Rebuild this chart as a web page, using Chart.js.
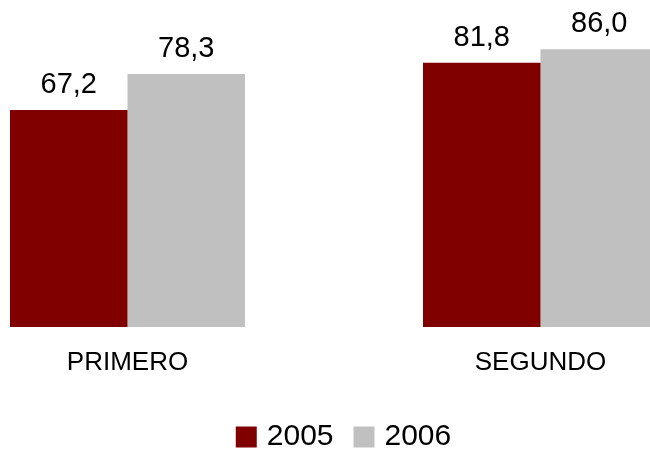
<!DOCTYPE html>
<html lang="es">
<head>
    <meta charset="UTF-8">
    <title>PRIMERO / SEGUNDO 2005-2006</title>
    <script src="https://cdn.jsdelivr.net/npm/chart.js"></script>
    <style>
        html, body { margin: 0; padding: 0; background: #fff; overflow: hidden; }
        body { width: 650px; height: 452px; position: relative; }
        #chart { position: absolute; left: -79px; top: 0; }
    </style>
</head>
<body>
    <canvas id="chart" width="850" height="452"></canvas>

    <script>
        const categories = ['PRIMERO', 'SEGUNDO'];
        const seriesNames = ['2005', '2006'];
        const values2005 = [67.2, 81.8];
        const values2006 = [78.3, 86.0];
        const seriesColors = ['#800000', '#C0C0C0'];

        Chart.defaults.font.family = "'Liberation Sans', Arial, sans-serif";
        Chart.defaults.color = '#000';

        // value labels above each bar, decimal comma
        const valueLabels = {
            id: 'valueLabels',
            afterDatasetsDraw(chart) {
                const ctx = chart.ctx;
                ctx.save();
                ctx.font = "29px 'Liberation Sans', Arial, sans-serif";
                ctx.fillStyle = '#000';
                ctx.textAlign = 'center';
                ctx.textBaseline = 'alphabetic';
                chart.data.datasets.forEach((ds, i) => {
                    chart.getDatasetMeta(i).data.forEach((bar, j) => {
                        const text = ds.data[j].toFixed(1).replace('.', ',');
                        ctx.fillText(text, bar.x, bar.y - 17);
                    });
                });
                ctx.restore();
            }
        };

        new Chart(document.getElementById('chart'), {
            type: 'bar',
            data: {
                labels: categories,
                datasets: [
                    { label: seriesNames[0], data: values2005, backgroundColor: seriesColors[0] },
                    { label: seriesNames[1], data: values2006, backgroundColor: seriesColors[1] }
                ]
            },
            options: {
                responsive: false,
                animation: false,
                categoryPercentage: 0.569,
                barPercentage: 1.0,
                layout: { padding: { top: 4, bottom: -10, left: 0, right: 0 } },
                plugins: {
                    tooltip: { enabled: false },
                    legend: {
                        position: 'bottom',
                        labels: {
                            usePointStyle: true,
                            pointStyle: 'rect',
                            boxWidth: 11,
                            boxHeight: 21,
                            padding: 25,
                            font: { size: 30 }
                        }
                    }
                },
                scales: {
                    x: {
                        grid: { display: false, drawTicks: false },
                        border: { display: false },
                        ticks: { padding: 20, font: { size: 26 } },
                        afterFit: scale => { scale.height = 70; }
                    },
                    y: {
                        position: 'right',
                        min: 0,
                        max: 100,
                        grid: { display: false, drawTicks: false },
                        border: { display: false },
                        ticks: { display: false },
                        afterFit: scale => { scale.width = 24; }
                    }
                }
            },
            plugins: [valueLabels]
        });
    </script>
</body>
</html>
